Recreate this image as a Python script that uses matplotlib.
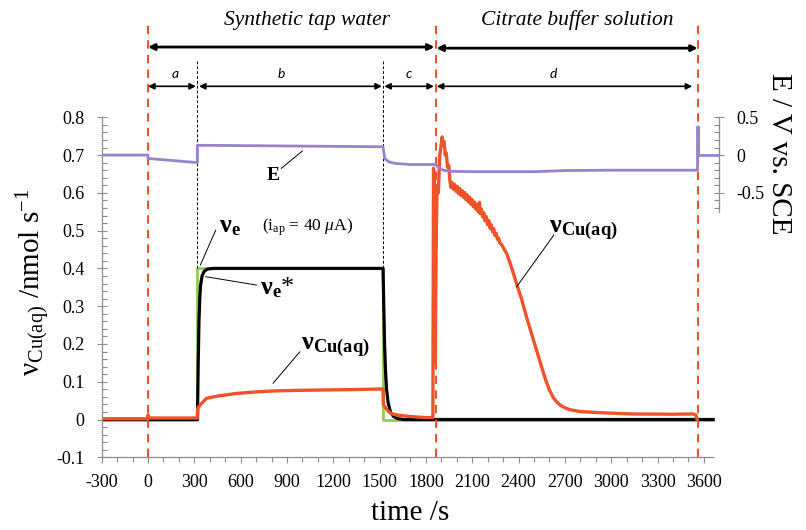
import matplotlib
matplotlib.use('Agg')
import matplotlib.pyplot as plt
from matplotlib.ticker import FixedLocator, FuncFormatter

plt.rcParams['font.family'] = ['Liberation Serif', 'DejaVu Serif']
plt.rcParams['mathtext.fontset'] = 'custom'
plt.rcParams['mathtext.rm'] = 'Liberation Serif'
plt.rcParams['mathtext.it'] = 'Liberation Serif:italic'
plt.rcParams['mathtext.bf'] = 'Liberation Serif:bold'
plt.rcParams['axes.unicode_minus'] = False

# --- data ---
# applied rate v_e (step), nmol/s
ve_t = [-300, 320, 320, 1522, 1522, 3660]
ve_v = [0, 0, 0.4, 0.4, 0, 0]

# modelled v_e*
ves_t = [-300, 320, 325, 330, 335, 340, 350, 365, 385, 420, 1522, 1527, 1532,
         1538, 1545, 1555, 1570, 1590, 1620, 1660, 3660]
ves_v = [0, 0, 0.15, 0.26, 0.32, 0.355, 0.38, 0.393, 0.398, 0.4, 0.4, 0.3, 0.2,
         0.13, 0.08, 0.045, 0.02, 0.008, 0.002, 0, 0]

# measured v_Cu(aq)
cu_t = [-300, -5, 0, 5, 320, 322, 336, 378, 450, 572, 700, 810, 950, 1112,
        1300, 1500, 1522, 1524, 1540, 1560, 1580, 1609, 1695, 1800, 1845,
        1849, 1853, 1860, 1866, 1872, 1880, 1890, 1905, 1912, 1918, 1925,
        1932, 1940, 1948, 1955, 1963, 1971, 1979, 1987, 1995, 2003, 2011,
        2019, 2027, 2035, 2043, 2051, 2059, 2067, 2075, 2083, 2091, 2099,
        2107, 2115, 2123, 2131, 2139, 2147, 2151, 2159, 2167, 2175, 2183,
        2191, 2199, 2207, 2215, 2223, 2231, 2239, 2247, 2255, 2263, 2271,
        2279, 2290, 2305, 2322, 2340, 2360, 2387, 2420, 2451, 2485, 2516,
        2550, 2575, 2600, 2625, 2646, 2670, 2700, 2732, 2800, 2926, 3142,
        3400, 3531, 3548, 3556]
cu_v = [0.002, 0.002, 0.012, 0.004, 0.004, 0.03, 0.038, 0.056, 0.062, 0.069,
        0.073, 0.0755, 0.077, 0.078, 0.079, 0.0807, 0.081, 0.04, 0.03, 0.02,
        0.015, 0.012, 0.008, 0.005, 0.005, 0.665, 0.64, 0.15, 0.45, 0.62,
        0.60, 0.70, 0.748, 0.725, 0.735, 0.70, 0.705, 0.668, 0.672, 0.633,
        0.614, 0.627, 0.609, 0.622, 0.604, 0.617, 0.598, 0.612, 0.593, 0.606,
        0.588, 0.601, 0.582, 0.595, 0.576, 0.589, 0.570, 0.582, 0.563, 0.576,
        0.557, 0.569, 0.550, 0.575, 0.545, 0.557, 0.536, 0.547, 0.526, 0.537,
        0.516, 0.527, 0.506, 0.516, 0.497, 0.505, 0.487, 0.493, 0.477, 0.480,
        0.467, 0.463, 0.452, 0.44, 0.42, 0.395, 0.36, 0.318, 0.272, 0.226,
        0.184, 0.138, 0.105, 0.078, 0.058, 0.047, 0.038, 0.031, 0.026, 0.021,
        0.018, 0.0146, 0.014, 0.0146, 0.012, 0.0]

# electrode potential E / V vs. SCE
e_t = [-300, 0, 0, 320, 320, 1522, 1533, 1560, 1600, 1700, 1850, 1862, 1880,
       1911, 1960, 2100, 2500, 2700, 3000, 3559, 3559, 3566, 3566, 3700]
e_v = [0, 0, -0.045, -0.10, 0.13, 0.11, -0.045, -0.09, -0.11, -0.125, -0.125,
       -0.125, -0.16, -0.20, -0.215, -0.22, -0.22, -0.205, -0.20, -0.20, 0.37,
       0.37, -0.005, -0.005]

x_ticks = [-300, 0, 300, 600, 900, 1200, 1500, 1800, 2100, 2400, 2700, 3000, 3300, 3600]
y_ticks = [-0.1, 0, 0.1, 0.2, 0.3, 0.4, 0.5, 0.6, 0.7, 0.8]
e_ticks = [-0.5, 0, 0.5]

red = '#f0522a'
green = '#8fcd55'
purple = '#9683c9'
grey = '#8c8c8c'

fig = plt.figure(figsize=(8.06, 5.30), dpi=100)
ax = fig.add_axes([0.1262, 0.1372, 0.7662, 0.6415])

ax.plot(ve_t, ve_v, color=green, lw=2)
ax.plot(ves_t, ves_v, color='black', lw=2.3)
ax.plot(cu_t, cu_v, color=red, lw=2.4, solid_joinstyle='round')

ax.set_xlim(-300, 3700)
ax.set_ylim(-0.1, 0.8)
ax.xaxis.set_major_locator(FixedLocator(x_ticks))
ax.xaxis.set_minor_locator(FixedLocator(list(range(-300, 3601, 100))))
ax.yaxis.set_major_locator(FixedLocator(y_ticks))
ax.yaxis.set_minor_locator(FixedLocator([i * 0.02 - 0.1 for i in range(46)]))
ax.yaxis.set_major_formatter(FuncFormatter(lambda v, p: f'{v:g}'))
ax.xaxis.set_major_formatter(FuncFormatter(lambda v, p: f'{v:g}'))
ax.tick_params(axis='y', which='major', direction='inout', length=6.5, width=0.8,
               color=grey, labelsize=13, pad=9)
ax.tick_params(axis='y', which='minor', direction='in', length=3.4, width=0.8, color=grey)
ax.tick_params(axis='x', which='major', direction='out', length=4.3, width=0.8,
               color=grey, labelsize=13, pad=8)
ax.tick_params(axis='x', which='minor', direction='out', length=3.4, width=0.8, color=grey)
for s in ['top', 'right']:
    ax.spines[s].set_visible(False)
for s in ['left', 'bottom']:
    ax.spines[s].set_color(grey)
    ax.spines[s].set_linewidth(0.9)
ax.spines['bottom'].set_bounds(-300, 3660)

# potential on a secondary axis
ax2 = ax.twinx()
ax2.plot(e_t, e_v, color=purple, lw=2)
ax2.set_ylim(-4.0, 0.5)
for s in ['top', 'left', 'bottom']:
    ax2.spines[s].set_visible(False)
ax2.spines['right'].set_color(grey)
ax2.spines['right'].set_linewidth(0.9)
ax2.spines['right'].set_bounds(-0.75, 0.5)
ax2.yaxis.set_major_locator(FixedLocator(e_ticks))
ax2.yaxis.set_minor_locator(FixedLocator([-0.7, -0.6, -0.4, -0.3, -0.2, -0.1, 0.1, 0.2, 0.3, 0.4]))
ax2.yaxis.set_major_formatter(FuncFormatter(lambda v, p: f'{v:g}'))
ax2.tick_params(axis='y', which='major', direction='inout', length=6.5, width=0.8,
                color=grey, labelsize=13, pad=9)
ax2.tick_params(axis='y', which='minor', direction='in', length=3.4, width=0.8, color=grey)

# vertical markers
for x in [0, 1862, 3559]:
    ax.plot([x, x], [-0.1, 1.05], color=red, lw=1.5, dashes=(4, 3), clip_on=False, zorder=5)
for x in [320, 1522]:
    ax.plot([x, x], [0.4, 0.95], color='black', lw=0.7, dashes=(3, 2), clip_on=False)


def arrow(x0, x1, y, lw):
    ax.annotate('', xy=(x1, y), xytext=(x0, y), annotation_clip=False,
                arrowprops=dict(arrowstyle='<|-|>', mutation_scale=9, lw=lw,
                                color='black', shrinkA=0, shrinkB=0))


arrow(0, 1855, 0.986, 2.0)
arrow(1868, 3560, 0.983, 2.0)
arrow(0, 310, 0.882, 1.2)
arrow(330, 1515, 0.882, 1.2)
arrow(1530, 1852, 0.882, 1.2)
arrow(1870, 3525, 0.882, 1.2)

for lab, x in [('a', 173), ('b', 860), ('c', 1689), ('d', 2622)]:
    ax.text(x, 0.914, lab, ha='center', va='center', fontsize=10,
            family='Lato', style='italic', clip_on=False)

ax.text(1030, 1.057, 'Synthetic tap water', ha='center', va='center',
        fontsize=15.5, style='italic', clip_on=False)
ax.text(2777, 1.057, 'Citrate buffer solution', ha='center', va='center',
        fontsize=15.5, style='italic', clip_on=False)

# curve labels
ax.text(810, 0.647, 'E', ha='center', va='center', fontsize=14, weight='bold')
ax.plot([864, 1000], [0.665, 0.711], color='black', lw=0.7)

ax.text(460, 0.51, r'$\mathbf{\nu}_\mathbf{e}$', ha='left', va='center', fontsize=19)
ax.plot([438, 339], [0.501, 0.409], color='black', lw=0.7)
ax.text(740, 0.51, r'(i$_\mathrm{ap}$ = 40 $\mu$A)', ha='left', va='center', fontsize=12.5)

ax.text(724, 0.35, r'$\mathbf{\nu}_\mathbf{e}$*', ha='left', va='center', fontsize=19)
ax.plot([702, 374], [0.356, 0.378], color='black', lw=0.7)

ax.text(990, 0.19, r'$\mathbf{\nu}_\mathbf{Cu(aq)}$', ha='left', va='center', fontsize=19)
ax.plot([983, 810], [0.179, 0.096], color='black', lw=0.7)

ax.text(2600, 0.50, r'$\mathbf{\nu}_\mathbf{Cu(aq)}$', ha='left', va='center', fontsize=19)
ax.plot([2628, 2387], [0.488, 0.351], color='black', lw=0.7)

# axis titles
fig.text(0.041, 0.468, r'$\mathrm{\nu}_\mathrm{Cu(aq)}$ /nmol s$^{-1}$', rotation=90,
         ha='center', va='center', fontsize=21)
fig.text(0.967, 0.71, 'E / V vs. SCE', rotation=-90, ha='center', va='center', fontsize=21)
fig.text(0.509, 0.032, 'time /s', ha='center', va='center', fontsize=21)

fig.savefig('out.png', dpi=100)
